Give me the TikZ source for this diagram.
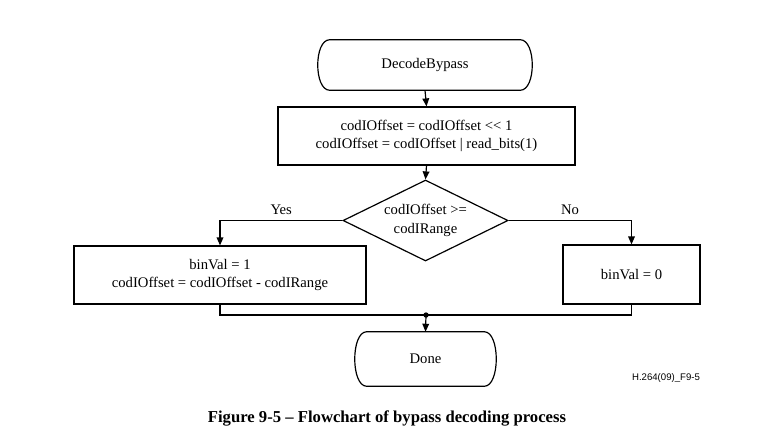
\documentclass[tikz,border=0pt]{standalone}
\usepackage{fontspec}
\setmainfont{Liberation Serif}
\newfontfamily\labelsans{Liberation Sans}
\usetikzlibrary{shapes.geometric,arrows.meta,calc}
\tikzset{
  base/.style={font=\fontsize{11}{13.8}\selectfont, align=center, inner sep=0pt},
  procbox/.style={base, draw, line width=0.9pt},
  decbox/.style={base, draw, diamond, aspect=2.04, line width=0.9pt},
  termbox/.style={base},
  conn/.style={line width=0.9pt},
  arr/.style={conn, -{Triangle[length=6pt,width=5pt]}},
  termline/.style={line width=0.9pt}
}
\begin{document}
\begin{tikzpicture}[x=0.75pt,y=-0.75pt]
\useasboundingbox (0,0) rectangle (784,447);
% terminals
\node[termbox, minimum width=160.5pt, minimum height=37.5pt] (start) at (425,65) {DecodeBypass};
\node[termbox, minimum width=105.75pt, minimum height=40.5pt] (done) at (425.5,359) {Done};
\foreach \n in {start,done}{
  \draw[termline] ([xshift=9pt]\n.north west) -- ([xshift=-9pt]\n.north east)
    .. controls ([xshift=3pt]\n.north east) and ([xshift=3pt]\n.south east) .. ([xshift=-9pt]\n.south east)
    -- ([xshift=9pt]\n.south west)
    .. controls ([xshift=-3pt]\n.south west) and ([xshift=-3pt]\n.north west) .. ([xshift=9pt]\n.north west) -- cycle;
}
% process boxes
\node[procbox, minimum width=222.75pt, minimum height=43.5pt] (shift) at (426.5,136)
  {codIOffset = codIOffset <\kern0pt< 1\\codIOffset = codIOffset | read\_bits(1)};
\node[decbox, minimum width=123.75pt, minimum height=60.75pt] (dec) at (425.5,220.5)
  {codIOffset >=\\codIRange};
\node[procbox, minimum width=219pt, minimum height=43.5pt] (yesbox) at (220,275)
  {binVal = 1\\codIOffset = codIOffset - codIRange};
\node[procbox, minimum width=102.75pt, minimum height=44.25pt] (nobox) at (631.5,274.5)
  {binVal = 0};
\coordinate (join) at (426,315);
% connectors
\draw[arr] (start.south) -- (shift.north);
\draw[arr] (shift.south) -- (dec.north);
\draw[arr] (dec.west) -| node[base, pos=0.25, above=4pt] {Yes} (yesbox.north);
\draw[arr] (dec.east) -| node[base, pos=0.25, above=4pt] {No} (nobox.north);
\draw[conn] (yesbox.south) |- (join) -| (nobox.south);
\fill (join) circle (2pt);
\draw[arr] (join) -- (done.north);
% labels
\node[font=\labelsans\fontsize{7.2}{9}\selectfont, inner sep=0pt] (tag) at (666,378) {H.264(09)\_F9-5};
\node[font=\bfseries\fontsize{12.5}{15}\selectfont, inner sep=0pt] (cap) at (387,418) {Figure 9-5 – Flowchart of bypass decoding process};
\end{tikzpicture}
\end{document}
